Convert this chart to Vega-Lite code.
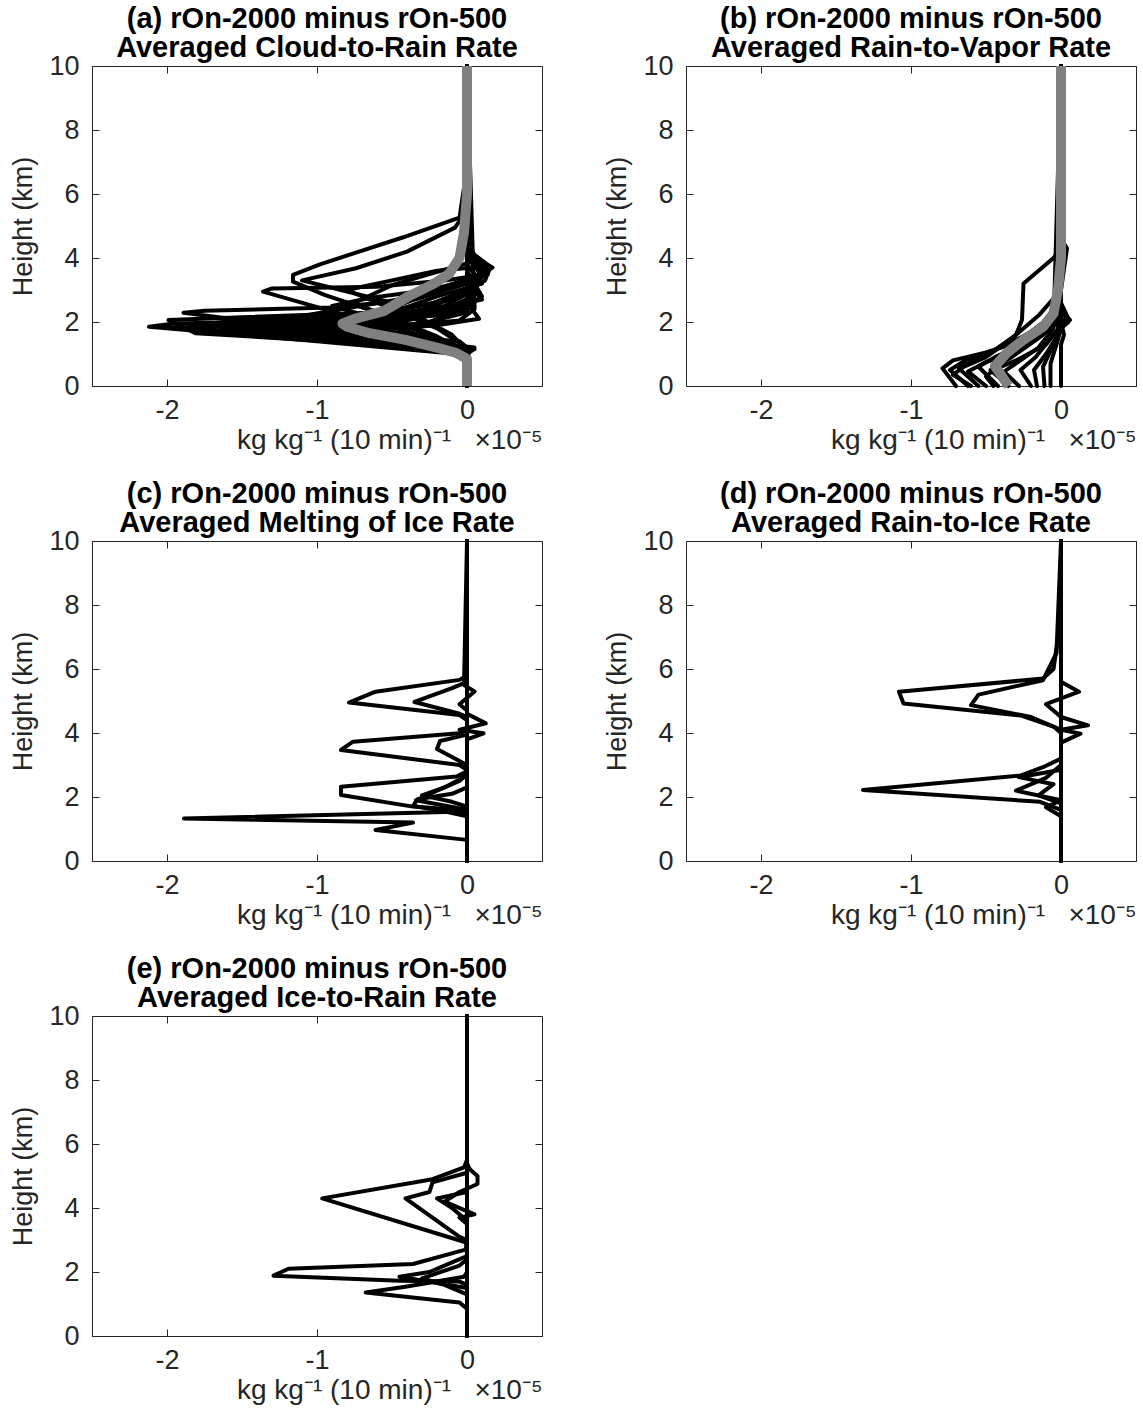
{
"$schema": "https://vega.github.io/schema/vega-lite/v6.json",
"background": "white",
"padding": {"left": 9, "top": 4, "right": 0, "bottom": 0},
"datasets": {
"a": [
{"s":"A1","v":0,"h":0},{"s":"A1","v":0,"h":0.9},{"s":"A1","v":0.01,"h":0.97},{"s":"A1","v":-1.0,"h":1.4},{"s":"A1","v":-2.12,"h":1.85},{"s":"A1","v":-1.95,"h":1.95},{"s":"A1","v":-1.0,"h":2.05},{"s":"A1","v":-0.35,"h":2.3},{"s":"A1","v":0,"h":2.9},{"s":"A1","v":0.1,"h":3.4},{"s":"A1","v":0.02,"h":4.0},{"s":"A1","v":0,"h":4.5},{"s":"A1","v":0,"h":10},
{"s":"A2","v":0,"h":0},{"s":"A2","v":0,"h":1.0},{"s":"A2","v":-0.1,"h":1.2},{"s":"A2","v":-1.0,"h":1.75},{"s":"A2","v":-1.89,"h":2.29},{"s":"A2","v":-1.75,"h":2.35},{"s":"A2","v":-0.9,"h":2.45},{"s":"A2","v":-0.35,"h":2.7},{"s":"A2","v":0,"h":3.2},{"s":"A2","v":0.17,"h":3.7},{"s":"A2","v":0.05,"h":4.0},{"s":"A2","v":0,"h":4.4},{"s":"A2","v":0,"h":10},
{"s":"A3","v":0,"h":0},{"s":"A3","v":0,"h":1.0},{"s":"A3","v":-0.15,"h":1.4},{"s":"A3","v":-0.8,"h":2.2},{"s":"A3","v":-1.36,"h":2.95},{"s":"A3","v":-1.3,"h":3.05},{"s":"A3","v":-0.6,"h":3.1},{"s":"A3","v":-0.15,"h":3.3},{"s":"A3","v":0.14,"h":3.5},{"s":"A3","v":0.05,"h":3.9},{"s":"A3","v":0,"h":4.2},{"s":"A3","v":0,"h":10},
{"s":"A4","v":0,"h":0},{"s":"A4","v":0,"h":1.05},{"s":"A4","v":-0.2,"h":1.55},{"s":"A4","v":-0.6,"h":2.3},{"s":"A4","v":-0.95,"h":2.85},{"s":"A4","v":-1.16,"h":3.26},{"s":"A4","v":-1.16,"h":3.47},{"s":"A4","v":-0.98,"h":3.8},{"s":"A4","v":-0.74,"h":4.17},{"s":"A4","v":-0.43,"h":4.64},{"s":"A4","v":-0.05,"h":5.26},{"s":"A4","v":-0.02,"h":6.2},{"s":"A4","v":0,"h":7.1},{"s":"A4","v":0,"h":10},
{"s":"A5","v":0,"h":0},{"s":"A5","v":0,"h":1.1},{"s":"A5","v":-0.1,"h":1.6},{"s":"A5","v":-0.5,"h":2.6},{"s":"A5","v":-1.1,"h":3.3},{"s":"A5","v":-0.74,"h":3.68},{"s":"A5","v":-0.4,"h":4.2},{"s":"A5","v":-0.08,"h":4.95},{"s":"A5","v":0,"h":5.5},{"s":"A5","v":0,"h":10},
{"s":"A6","v":0,"h":0},{"s":"A6","v":0,"h":0.9},{"s":"A6","v":-0.05,"h":1.15},{"s":"A6","v":-1.81,"h":1.65},{"s":"A6","v":-1.99,"h":2.06},{"s":"A6","v":-1.5,"h":2.15},{"s":"A6","v":-0.6,"h":2.3},{"s":"A6","v":-0.1,"h":2.7},{"s":"A6","v":0.12,"h":3.3},{"s":"A6","v":0.15,"h":3.65},{"s":"A6","v":0.02,"h":4.0},{"s":"A6","v":0,"h":10},
{"s":"A7","v":0,"h":0},{"s":"A7","v":0,"h":1.0},{"s":"A7","v":0.03,"h":1.1},{"s":"A7","v":-1.6,"h":1.85},{"s":"A7","v":-1.45,"h":1.95},{"s":"A7","v":-0.7,"h":2.1},{"s":"A7","v":-0.15,"h":2.5},{"s":"A7","v":0.05,"h":3.0},{"s":"A7","v":0,"h":3.6},{"s":"A7","v":0,"h":10},
{"s":"A8","v":0,"h":0},{"s":"A8","v":0,"h":1.0},{"s":"A8","v":-0.08,"h":1.25},{"s":"A8","v":-1.3,"h":1.8},{"s":"A8","v":-0.9,"h":1.95},{"s":"A8","v":-0.3,"h":2.2},{"s":"A8","v":0.05,"h":2.7},{"s":"A8","v":0,"h":3.3},{"s":"A8","v":0,"h":10},
{"s":"A9","v":0,"h":0},{"s":"A9","v":0,"h":1.05},{"s":"A9","v":0.05,"h":1.15},{"s":"A9","v":-1.05,"h":1.85},{"s":"A9","v":-0.5,"h":2.1},{"s":"A9","v":-0.1,"h":2.5},{"s":"A9","v":0.08,"h":2.9},{"s":"A9","v":0,"h":3.5},{"s":"A9","v":0,"h":10},
{"s":"A10","v":0,"h":0},{"s":"A10","v":0,"h":1.1},{"s":"A10","v":-0.5,"h":1.7},{"s":"A10","v":-0.85,"h":2.0},{"s":"A10","v":-0.5,"h":2.3},{"s":"A10","v":-0.2,"h":2.8},{"s":"A10","v":0.1,"h":3.2},{"s":"A10","v":0,"h":3.8},{"s":"A10","v":0,"h":10},
{"s":"A11","v":0,"h":0},{"s":"A11","v":0,"h":0.95},{"s":"A11","v":-0.5,"h":1.5},{"s":"A11","v":-1.2,"h":2.1},{"s":"A11","v":-0.9,"h":2.35},{"s":"A11","v":-0.4,"h":2.75},{"s":"A11","v":0.05,"h":3.4},{"s":"A11","v":0.12,"h":3.6},{"s":"A11","v":0,"h":4.0},{"s":"A11","v":0,"h":10},
{"s":"A12","v":0,"h":0},{"s":"A12","v":0,"h":1.1},{"s":"A12","v":-0.3,"h":1.7},{"s":"A12","v":-0.9,"h":2.5},{"s":"A12","v":-0.65,"h":2.75},{"s":"A12","v":-0.25,"h":3.0},{"s":"A12","v":0.1,"h":3.4},{"s":"A12","v":0.15,"h":3.65},{"s":"A12","v":0.03,"h":4.0},{"s":"A12","v":0,"h":10},
{"s":"A13","v":0,"h":0},{"s":"A13","v":0,"h":1.2},{"s":"A13","v":-0.05,"h":1.4},{"s":"A13","v":-1.7,"h":1.95},{"s":"A13","v":-1.55,"h":2.05},{"s":"A13","v":-0.7,"h":2.2},{"s":"A13","v":-0.25,"h":2.55},{"s":"A13","v":0.05,"h":3.1},{"s":"A13","v":0,"h":3.6},{"s":"A13","v":0,"h":10},
{"s":"A14","v":0,"h":0},{"s":"A14","v":0,"h":0.9},{"s":"A14","v":-0.1,"h":1.3},{"s":"A14","v":-0.45,"h":1.7},{"s":"A14","v":-0.25,"h":2.0},{"s":"A14","v":0.05,"h":2.5},{"s":"A14","v":0,"h":3.0},{"s":"A14","v":0,"h":10},
{"s":"A15","v":0,"h":0},{"s":"A15","v":0,"h":1.0},{"s":"A15","v":0.02,"h":1.15},{"s":"A15","v":-1.45,"h":1.9},{"s":"A15","v":-1.2,"h":2.02},{"s":"A15","v":-0.6,"h":2.25},{"s":"A15","v":-0.3,"h":2.8},{"s":"A15","v":-0.1,"h":3.1},{"s":"A15","v":0.1,"h":3.5},{"s":"A15","v":0.02,"h":3.9},{"s":"A15","v":0,"h":10},
{"s":"A16","v":0,"h":0},{"s":"A16","v":0,"h":1.1},{"s":"A16","v":-0.2,"h":1.5},{"s":"A16","v":-0.75,"h":2.6},{"s":"A16","v":-0.5,"h":3.15},{"s":"A16","v":-0.25,"h":3.5},{"s":"A16","v":0.05,"h":3.9},{"s":"A16","v":0,"h":4.3},{"s":"A16","v":0,"h":10},
{"s":"A17","v":0,"h":0},{"s":"A17","v":0,"h":1.0},{"s":"A17","v":-0.1,"h":1.3},{"s":"A17","v":-0.9,"h":1.65},{"s":"A17","v":-0.6,"h":1.75},{"s":"A17","v":-0.2,"h":1.9},{"s":"A17","v":0.08,"h":2.1},{"s":"A17","v":0,"h":2.6},{"s":"A17","v":0,"h":10},
{"s":"A18","v":0,"h":0},{"s":"A18","v":0,"h":1.05},{"s":"A18","v":0.05,"h":1.2},{"s":"A18","v":-0.7,"h":1.6},{"s":"A18","v":-0.95,"h":1.78},{"s":"A18","v":-0.3,"h":1.95},{"s":"A18","v":0,"h":2.3},{"s":"A18","v":0,"h":10},
{"s":"A19","v":0,"h":0},{"s":"A19","v":0,"h":0.95},{"s":"A19","v":-0.2,"h":1.2},{"s":"A19","v":-1.1,"h":1.55},{"s":"A19","v":-1.4,"h":1.7},{"s":"A19","v":-0.5,"h":1.85},{"s":"A19","v":-0.05,"h":2.05},{"s":"A19","v":0.05,"h":2.4},{"s":"A19","v":0,"h":10},
{"s":"A20","v":0,"h":0},{"s":"A20","v":0,"h":1.1},{"s":"A20","v":-0.3,"h":1.4},{"s":"A20","v":-1.9,"h":1.8},{"s":"A20","v":-1.75,"h":1.9},{"s":"A20","v":-0.8,"h":2.0},{"s":"A20","v":-0.2,"h":2.2},{"s":"A20","v":0,"h":2.6},{"s":"A20","v":0,"h":10},
{"s":"A21","v":0,"h":0},{"s":"A21","v":0,"h":1.0},{"s":"A21","v":-0.15,"h":1.25},{"s":"A21","v":-1.65,"h":1.75},{"s":"A21","v":-1.2,"h":1.9},{"s":"A21","v":-0.5,"h":2.05},{"s":"A21","v":-0.05,"h":2.35},{"s":"A21","v":0.1,"h":2.8},{"s":"A21","v":0.05,"h":3.2},{"s":"A21","v":0,"h":3.6},{"s":"A21","v":0,"h":10},
{"s":"A22","v":0,"h":0},{"s":"A22","v":0,"h":1.05},{"s":"A22","v":-0.25,"h":1.35},{"s":"A22","v":-2.0,"h":1.82},{"s":"A22","v":-1.3,"h":1.92},{"s":"A22","v":-0.4,"h":2.1},{"s":"A22","v":0,"h":2.4},{"s":"A22","v":0,"h":10},
{"s":"A23","v":0,"h":0},{"s":"A23","v":0,"h":1.1},{"s":"A23","v":-0.05,"h":1.2},{"s":"A23","v":-0.6,"h":1.5},{"s":"A23","v":-1.0,"h":1.7},{"s":"A23","v":-0.6,"h":2.0},{"s":"A23","v":-0.2,"h":2.4},{"s":"A23","v":0.1,"h":2.7},{"s":"A23","v":0.05,"h":3.0},{"s":"A23","v":0,"h":3.4},{"s":"A23","v":0,"h":10},
{"s":"A24","v":0,"h":0},{"s":"A24","v":0,"h":1.15},{"s":"A24","v":-0.2,"h":1.45},{"s":"A24","v":-1.5,"h":1.75},{"s":"A24","v":-1.0,"h":1.85},{"s":"A24","v":-0.45,"h":2.0},{"s":"A24","v":-0.15,"h":2.3},{"s":"A24","v":0.05,"h":2.6},{"s":"A24","v":0,"h":3.0},{"s":"A24","v":0,"h":10},
{"s":"A25","v":0,"h":0},{"s":"A25","v":0,"h":1.2},{"s":"A25","v":-0.2,"h":1.8},{"s":"A25","v":-0.55,"h":2.5},{"s":"A25","v":-0.8,"h":3.0},{"s":"A25","v":-0.5,"h":3.3},{"s":"A25","v":-0.2,"h":3.6},{"s":"A25","v":0.15,"h":3.75},{"s":"A25","v":0.05,"h":4.1},{"s":"A25","v":0,"h":4.5},{"s":"A25","v":0,"h":10}
],
"am": [
{"v":0,"h":0},{"v":0,"h":0.85},{"v":-0.07,"h":1.03},{"v":-0.2,"h":1.2},{"v":-0.41,"h":1.44},{"v":-0.65,"h":1.65},{"v":-0.8,"h":1.85},{"v":-0.83,"h":1.95},{"v":-0.75,"h":2.1},{"v":-0.55,"h":2.35},{"v":-0.39,"h":2.8},{"v":-0.22,"h":3.2},{"v":-0.12,"h":3.5},{"v":-0.05,"h":4.0},{"v":-0.02,"h":4.8},{"v":0,"h":6},{"v":0,"h":10}
],
"b": [
{"s":"B1","v":-0.7,"h":0},{"s":"B1","v":-0.79,"h":0.55},{"s":"B1","v":-0.72,"h":0.8},{"s":"B1","v":-0.5,"h":1.05},{"s":"B1","v":-0.3,"h":1.35},{"s":"B1","v":-0.2,"h":1.7},{"s":"B1","v":-0.1,"h":2.05},{"s":"B1","v":0,"h":2.4},{"s":"B1","v":0,"h":10},
{"s":"B2","v":-0.62,"h":0},{"s":"B2","v":-0.74,"h":0.5},{"s":"B2","v":-0.62,"h":0.85},{"s":"B2","v":-0.45,"h":1.1},{"s":"B2","v":-0.3,"h":1.6},{"s":"B2","v":-0.26,"h":2.07},{"s":"B2","v":-0.25,"h":3.2},{"s":"B2","v":-0.05,"h":4.0},{"s":"B2","v":0,"h":4.3},{"s":"B2","v":0,"h":10},
{"s":"B3","v":-0.55,"h":0},{"s":"B3","v":-0.68,"h":0.55},{"s":"B3","v":-0.55,"h":0.9},{"s":"B3","v":-0.38,"h":1.25},{"s":"B3","v":-0.15,"h":1.8},{"s":"B3","v":0.06,"h":2.06},{"s":"B3","v":0,"h":2.4},{"s":"B3","v":0,"h":10},
{"s":"B4","v":-0.5,"h":0},{"s":"B4","v":-0.62,"h":0.45},{"s":"B4","v":-0.5,"h":0.75},{"s":"B4","v":-0.28,"h":1.1},{"s":"B4","v":-0.12,"h":1.6},{"s":"B4","v":-0.02,"h":2.2},{"s":"B4","v":0,"h":10},
{"s":"B5","v":-0.42,"h":0},{"s":"B5","v":-0.55,"h":0.6},{"s":"B5","v":-0.42,"h":0.95},{"s":"B5","v":-0.2,"h":1.4},{"s":"B5","v":-0.08,"h":2.0},{"s":"B5","v":0.05,"h":2.1},{"s":"B5","v":0,"h":2.6},{"s":"B5","v":0,"h":10},
{"s":"B6","v":-0.35,"h":0},{"s":"B6","v":-0.47,"h":0.5},{"s":"B6","v":-0.33,"h":0.9},{"s":"B6","v":-0.15,"h":1.5},{"s":"B6","v":-0.02,"h":2.0},{"s":"B6","v":0,"h":10},
{"s":"B7","v":-0.28,"h":0},{"s":"B7","v":-0.38,"h":0.45},{"s":"B7","v":-0.27,"h":0.8},{"s":"B7","v":-0.15,"h":1.2},{"s":"B7","v":-0.05,"h":1.8},{"s":"B7","v":0,"h":10},
{"s":"B8","v":-0.2,"h":0},{"s":"B8","v":-0.27,"h":0.5},{"s":"B8","v":-0.17,"h":0.9},{"s":"B8","v":-0.05,"h":1.6},{"s":"B8","v":0.05,"h":2.0},{"s":"B8","v":0,"h":2.4},{"s":"B8","v":0,"h":10},
{"s":"B9","v":-0.16,"h":0},{"s":"B9","v":-0.18,"h":0.5},{"s":"B9","v":-0.1,"h":1.0},{"s":"B9","v":-0.02,"h":1.6},{"s":"B9","v":0,"h":10},
{"s":"B10","v":-0.11,"h":0},{"s":"B10","v":-0.12,"h":0.6},{"s":"B10","v":-0.06,"h":1.2},{"s":"B10","v":0,"h":1.8},{"s":"B10","v":0,"h":10},
{"s":"B11","v":-0.07,"h":0},{"s":"B11","v":-0.07,"h":0.7},{"s":"B11","v":-0.03,"h":1.3},{"s":"B11","v":0,"h":1.8},{"s":"B11","v":0,"h":10},
{"s":"B12","v":0,"h":0},{"s":"B12","v":0,"h":1.3},{"s":"B12","v":0.02,"h":1.6},{"s":"B12","v":0,"h":2.0},{"s":"B12","v":0,"h":10},
{"s":"B13","v":-0.6,"h":0},{"s":"B13","v":-0.72,"h":0.35},{"s":"B13","v":-0.65,"h":0.6},{"s":"B13","v":-0.5,"h":0.9},{"s":"B13","v":-0.35,"h":1.4},{"s":"B13","v":-0.15,"h":2.2},{"s":"B13","v":0,"h":3.0},{"s":"B13","v":0.04,"h":4.3},{"s":"B13","v":0,"h":4.6},{"s":"B13","v":0,"h":10},
{"s":"B14","v":-0.45,"h":0},{"s":"B14","v":-0.5,"h":0.3},{"s":"B14","v":-0.45,"h":0.5},{"s":"B14","v":-0.3,"h":0.8},{"s":"B14","v":-0.1,"h":1.3},{"s":"B14","v":0,"h":1.9},{"s":"B14","v":0,"h":10}
],
"bm": [
{"v":-0.35,"h":0},{"v":-0.44,"h":0.62},{"v":-0.36,"h":1.04},{"v":-0.25,"h":1.44},{"v":-0.12,"h":1.85},{"v":-0.05,"h":2.27},{"v":-0.02,"h":3.0},{"v":0,"h":4.0},{"v":0,"h":10}
],
"c": [
{"s":"C1","v":0,"h":0},{"s":"C1","v":0,"h":0.66},{"s":"C1","v":-0.61,"h":0.97},{"s":"C1","v":-0.36,"h":1.2},{"s":"C1","v":-1.887,"h":1.33},{"s":"C1","v":-0.075,"h":1.54},{"s":"C1","v":0,"h":1.7},{"s":"C1","v":0,"h":10},
{"s":"C2","v":0,"h":0},{"s":"C2","v":0,"h":1.4},{"s":"C2","v":-0.2,"h":1.6},{"s":"C2","v":-0.36,"h":1.72},{"s":"C2","v":-0.33,"h":1.93},{"s":"C2","v":-0.1,"h":2.1},{"s":"C2","v":0,"h":2.3},{"s":"C2","v":0,"h":10},
{"s":"C3","v":0,"h":0},{"s":"C3","v":0,"h":1.5},{"s":"C3","v":-0.07,"h":1.6},{"s":"C3","v":-0.36,"h":1.7},{"s":"C3","v":-0.84,"h":2.06},{"s":"C3","v":-0.84,"h":2.32},{"s":"C3","v":-0.07,"h":2.64},{"s":"C3","v":0,"h":2.8},{"s":"C3","v":0,"h":10},
{"s":"C4","v":0,"h":0},{"s":"C4","v":0,"h":1.6},{"s":"C4","v":-0.34,"h":1.9},{"s":"C4","v":-0.2,"h":2.2},{"s":"C4","v":-0.05,"h":2.5},{"s":"C4","v":0,"h":2.7},{"s":"C4","v":0,"h":10},
{"s":"C5","v":0,"h":0},{"s":"C5","v":0,"h":1.7},{"s":"C5","v":-0.1,"h":1.85},{"s":"C5","v":-0.3,"h":2.05},{"s":"C5","v":-0.15,"h":2.3},{"s":"C5","v":-0.05,"h":2.55},{"s":"C5","v":0,"h":2.7},{"s":"C5","v":0,"h":10},
{"s":"C6","v":0,"h":0},{"s":"C6","v":0,"h":2.85},{"s":"C6","v":-0.05,"h":3.0},{"s":"C6","v":-0.84,"h":3.47},{"s":"C6","v":-0.76,"h":3.73},{"s":"C6","v":-0.05,"h":3.99},{"s":"C6","v":0,"h":4.1},{"s":"C6","v":0,"h":10},
{"s":"C7","v":0,"h":0},{"s":"C7","v":0,"h":3.0},{"s":"C7","v":-0.2,"h":3.5},{"s":"C7","v":-0.18,"h":3.75},{"s":"C7","v":0,"h":3.95},{"s":"C7","v":0,"h":10},
{"s":"C8","v":0,"h":0},{"s":"C8","v":0,"h":3.8},{"s":"C8","v":0.11,"h":3.99},{"s":"C8","v":-0.05,"h":4.1},{"s":"C8","v":0.125,"h":4.3},{"s":"C8","v":0,"h":4.6},{"s":"C8","v":0,"h":10},
{"s":"C9","v":0,"h":0},{"s":"C9","v":0,"h":4.4},{"s":"C9","v":-0.05,"h":4.56},{"s":"C9","v":-0.787,"h":4.95},{"s":"C9","v":-0.61,"h":5.29},{"s":"C9","v":-0.05,"h":5.66},{"s":"C9","v":0,"h":5.8},{"s":"C9","v":0,"h":10},
{"s":"C10","v":0,"h":0},{"s":"C10","v":0,"h":4.5},{"s":"C10","v":-0.05,"h":4.6},{"s":"C10","v":-0.35,"h":4.97},{"s":"C10","v":-0.1,"h":5.4},{"s":"C10","v":0,"h":5.6},{"s":"C10","v":0,"h":10},
{"s":"C11","v":0,"h":0},{"s":"C11","v":0,"h":4.7},{"s":"C11","v":-0.05,"h":4.9},{"s":"C11","v":0.05,"h":5.3},{"s":"C11","v":-0.02,"h":5.5},{"s":"C11","v":0,"h":10}
],
"d": [
{"s":"D1","v":0,"h":0},{"s":"D1","v":0,"h":4.0},{"s":"D1","v":-0.05,"h":4.2},{"s":"D1","v":-0.27,"h":4.55},{"s":"D1","v":-1.05,"h":4.92},{"s":"D1","v":-1.08,"h":5.29},{"s":"D1","v":-0.12,"h":5.7},{"s":"D1","v":-0.05,"h":6.0},{"s":"D1","v":-0.02,"h":7},{"s":"D1","v":0,"h":8},{"s":"D1","v":0,"h":10},
{"s":"D2","v":0,"h":0},{"s":"D2","v":0,"h":4.1},{"s":"D2","v":-0.2,"h":4.5},{"s":"D2","v":-0.6,"h":4.87},{"s":"D2","v":-0.55,"h":5.2},{"s":"D2","v":-0.12,"h":5.65},{"s":"D2","v":-0.03,"h":6.5},{"s":"D2","v":0,"h":10},
{"s":"D3","v":0,"h":0},{"s":"D3","v":0,"h":3.7},{"s":"D3","v":0.13,"h":3.98},{"s":"D3","v":0,"h":4.1},{"s":"D3","v":0.18,"h":4.24},{"s":"D3","v":0,"h":4.5},{"s":"D3","v":-0.1,"h":4.9},{"s":"D3","v":0.12,"h":5.29},{"s":"D3","v":0,"h":5.6},{"s":"D3","v":0,"h":10},
{"s":"D4","v":0,"h":0},{"s":"D4","v":0,"h":1.6},{"s":"D4","v":-0.14,"h":1.85},{"s":"D4","v":-1.32,"h":2.22},{"s":"D4","v":-0.27,"h":2.67},{"s":"D4","v":-0.12,"h":2.93},{"s":"D4","v":0,"h":3.2},{"s":"D4","v":0,"h":10},
{"s":"D5","v":0,"h":0},{"s":"D5","v":0,"h":1.4},{"s":"D5","v":-0.1,"h":1.68},{"s":"D5","v":0,"h":1.9},{"s":"D5","v":-0.3,"h":2.2},{"s":"D5","v":-0.1,"h":2.6},{"s":"D5","v":0,"h":3.0},{"s":"D5","v":0,"h":10},
{"s":"D6","v":0,"h":0},{"s":"D6","v":0,"h":1.8},{"s":"D6","v":-0.15,"h":2.05},{"s":"D6","v":-0.05,"h":2.4},{"s":"D6","v":-0.28,"h":2.62},{"s":"D6","v":0,"h":2.85},{"s":"D6","v":0,"h":10}
],
"e": [
{"s":"E1","v":0,"h":0},{"s":"E1","v":0,"h":2.8},{"s":"E1","v":-0.01,"h":2.93},{"s":"E1","v":-0.965,"h":4.3},{"s":"E1","v":-0.23,"h":4.9},{"s":"E1","v":-0.02,"h":5.27},{"s":"E1","v":0,"h":5.5},{"s":"E1","v":0,"h":10},
{"s":"E2","v":0,"h":0},{"s":"E2","v":0,"h":3.0},{"s":"E2","v":-0.05,"h":3.1},{"s":"E2","v":-0.41,"h":4.3},{"s":"E2","v":-0.25,"h":4.5},{"s":"E2","v":-0.23,"h":4.8},{"s":"E2","v":0,"h":5.1},{"s":"E2","v":0,"h":10},
{"s":"E3","v":0,"h":0},{"s":"E3","v":0,"h":3.5},{"s":"E3","v":-0.05,"h":3.7},{"s":"E3","v":0.05,"h":3.8},{"s":"E3","v":-0.15,"h":4.2},{"s":"E3","v":-0.05,"h":4.5},{"s":"E3","v":0.07,"h":4.75},{"s":"E3","v":0.07,"h":5.0},{"s":"E3","v":0.02,"h":5.2},{"s":"E3","v":0,"h":5.4},{"s":"E3","v":0,"h":10},
{"s":"E4","v":0,"h":0},{"s":"E4","v":0,"h":3.6},{"s":"E4","v":-0.1,"h":4.0},{"s":"E4","v":-0.2,"h":4.3},{"s":"E4","v":0,"h":4.5},{"s":"E4","v":0,"h":10},
{"s":"E5","v":0,"h":0},{"s":"E5","v":0,"h":1.6},{"s":"E5","v":-0.05,"h":1.7},{"s":"E5","v":-0.45,"h":1.73},{"s":"E5","v":-1.29,"h":1.885},{"s":"E5","v":-1.19,"h":2.1},{"s":"E5","v":-0.36,"h":2.25},{"s":"E5","v":-0.01,"h":2.7},{"s":"E5","v":0,"h":2.9},{"s":"E5","v":0,"h":10},
{"s":"E6","v":0,"h":0},{"s":"E6","v":0,"h":0.85},{"s":"E6","v":-0.05,"h":1.05},{"s":"E6","v":-0.675,"h":1.36},{"s":"E6","v":-0.4,"h":1.55},{"s":"E6","v":-0.02,"h":1.85},{"s":"E6","v":0,"h":2.0},{"s":"E6","v":0,"h":10},
{"s":"E7","v":0,"h":0},{"s":"E7","v":0,"h":1.5},{"s":"E7","v":-0.45,"h":1.85},{"s":"E7","v":-0.25,"h":2.0},{"s":"E7","v":-0.1,"h":2.3},{"s":"E7","v":0,"h":2.5},{"s":"E7","v":0,"h":10},
{"s":"E8","v":0,"h":0},{"s":"E8","v":0,"h":1.3},{"s":"E8","v":-0.15,"h":1.6},{"s":"E8","v":-0.3,"h":1.8},{"s":"E8","v":-0.05,"h":2.2},{"s":"E8","v":0,"h":2.4},{"s":"E8","v":0,"h":10}
]
},
"columns": 2,
"bounds": "flush",
"spacing": {"row": 155, "column": 144},
"concat": [
{
"width": 450, "height": 320,
"title": {"text": ["(a) rOn-2000 minus rOn-500", "Averaged Cloud-to-Rain Rate"]},
"layer": [
{"data": {"name": "a"}, "mark": {"type": "line", "color": "#000000", "strokeWidth": 4, "strokeJoin": "round", "strokeCap": "round"},
"encoding": {
"x": {"field": "v", "type": "quantitative", "scale": {"domain": [-2.5, 0.5], "nice": false, "zero": false}, "axis": {"orient": "bottom", "values": [-2, -1, 0], "labelExpr": "'' + datum.value", "title": "kg kg⁻¹ (10 min)⁻¹\u00a0\u00a0\u00a0×10⁻⁵\u00a0", "titleAnchor": "end", "labelPadding": 18, "titlePadding": 3}},
"y": {"field": "h", "type": "quantitative", "scale": {"domain": [0, 10], "nice": false, "zero": false}, "axis": {"orient": "left", "values": [0, 2, 4, 6, 8, 10], "title": "Height (km)", "labelPadding": 20, "titlePadding": 11}},
"detail": {"field": "s"}, "order": {"field": "h"}}},
{"data": {"name": "am"}, "mark": {"type": "line", "color": "#808080", "strokeWidth": 10, "strokeJoin": "round"},
"encoding": {
"x": {"field": "v", "type": "quantitative", "axis": {"orient": "top", "values": [-2, -1, 0], "labels": false, "title": null}},
"y": {"field": "h", "type": "quantitative", "axis": {"orient": "right", "values": [0, 2, 4, 6, 8, 10], "labels": false, "title": null}},
"order": {"field": "h"}}}
],
"resolve": {"axis": {"x": "independent", "y": "independent"}}
},
{
"width": 450, "height": 320,
"title": {"text": ["(b) rOn-2000 minus rOn-500", "Averaged Rain-to-Vapor Rate"]},
"layer": [
{"data": {"name": "b"}, "mark": {"type": "line", "color": "#000000", "strokeWidth": 4, "strokeJoin": "round", "strokeCap": "round"},
"encoding": {
"x": {"field": "v", "type": "quantitative", "scale": {"domain": [-2.5, 0.5], "nice": false, "zero": false}, "axis": {"orient": "bottom", "values": [-2, -1, 0], "labelExpr": "'' + datum.value", "title": "kg kg⁻¹ (10 min)⁻¹\u00a0\u00a0\u00a0×10⁻⁵\u00a0", "titleAnchor": "end", "labelPadding": 18, "titlePadding": 3}},
"y": {"field": "h", "type": "quantitative", "scale": {"domain": [0, 10], "nice": false, "zero": false}, "axis": {"orient": "left", "values": [0, 2, 4, 6, 8, 10], "title": "Height (km)", "labelPadding": 20, "titlePadding": 11}},
"detail": {"field": "s"}, "order": {"field": "h"}}},
{"data": {"name": "bm"}, "mark": {"type": "line", "color": "#808080", "strokeWidth": 10, "strokeJoin": "round"},
"encoding": {
"x": {"field": "v", "type": "quantitative", "axis": {"orient": "top", "values": [-2, -1, 0], "labels": false, "title": null}},
"y": {"field": "h", "type": "quantitative", "axis": {"orient": "right", "values": [0, 2, 4, 6, 8, 10], "labels": false, "title": null}},
"order": {"field": "h"}}}
],
"resolve": {"axis": {"x": "independent", "y": "independent"}}
},
{
"width": 450, "height": 320,
"title": {"text": ["(c) rOn-2000 minus rOn-500", "Averaged Melting of Ice Rate"]},
"data": {"name": "c"},
"layer": [
{"mark": {"type": "line", "color": "#000000", "strokeWidth": 4, "strokeJoin": "round", "strokeCap": "round"},
"encoding": {
"x": {"field": "v", "type": "quantitative", "scale": {"domain": [-2.5, 0.5], "nice": false, "zero": false}, "axis": {"orient": "bottom", "values": [-2, -1, 0], "labelExpr": "'' + datum.value", "title": "kg kg⁻¹ (10 min)⁻¹\u00a0\u00a0\u00a0×10⁻⁵\u00a0", "titleAnchor": "end", "labelPadding": 18, "titlePadding": 3}},
"y": {"field": "h", "type": "quantitative", "scale": {"domain": [0, 10], "nice": false, "zero": false}, "axis": {"orient": "left", "values": [0, 2, 4, 6, 8, 10], "title": "Height (km)", "labelPadding": 20, "titlePadding": 11}},
"detail": {"field": "s"}, "order": {"field": "h"}}},
{"mark": {"type": "line", "strokeOpacity": 0},
"encoding": {
"x": {"field": "v", "type": "quantitative", "axis": {"orient": "top", "values": [-2, -1, 0], "labels": false, "title": null}},
"y": {"field": "h", "type": "quantitative", "axis": {"orient": "right", "values": [0, 2, 4, 6, 8, 10], "labels": false, "title": null}},
"detail": {"field": "s"}, "order": {"field": "h"}}}
],
"resolve": {"axis": {"x": "independent", "y": "independent"}}
},
{
"width": 450, "height": 320,
"title": {"text": ["(d) rOn-2000 minus rOn-500", "Averaged Rain-to-Ice Rate"]},
"data": {"name": "d"},
"layer": [
{"mark": {"type": "line", "color": "#000000", "strokeWidth": 4, "strokeJoin": "round", "strokeCap": "round"},
"encoding": {
"x": {"field": "v", "type": "quantitative", "scale": {"domain": [-2.5, 0.5], "nice": false, "zero": false}, "axis": {"orient": "bottom", "values": [-2, -1, 0], "labelExpr": "'' + datum.value", "title": "kg kg⁻¹ (10 min)⁻¹\u00a0\u00a0\u00a0×10⁻⁵\u00a0", "titleAnchor": "end", "labelPadding": 18, "titlePadding": 3}},
"y": {"field": "h", "type": "quantitative", "scale": {"domain": [0, 10], "nice": false, "zero": false}, "axis": {"orient": "left", "values": [0, 2, 4, 6, 8, 10], "title": "Height (km)", "labelPadding": 20, "titlePadding": 11}},
"detail": {"field": "s"}, "order": {"field": "h"}}},
{"mark": {"type": "line", "strokeOpacity": 0},
"encoding": {
"x": {"field": "v", "type": "quantitative", "axis": {"orient": "top", "values": [-2, -1, 0], "labels": false, "title": null}},
"y": {"field": "h", "type": "quantitative", "axis": {"orient": "right", "values": [0, 2, 4, 6, 8, 10], "labels": false, "title": null}},
"detail": {"field": "s"}, "order": {"field": "h"}}}
],
"resolve": {"axis": {"x": "independent", "y": "independent"}}
},
{
"width": 450, "height": 320,
"title": {"text": ["(e) rOn-2000 minus rOn-500", "Averaged Ice-to-Rain Rate"]},
"data": {"name": "e"},
"layer": [
{"mark": {"type": "line", "color": "#000000", "strokeWidth": 4, "strokeJoin": "round", "strokeCap": "round"},
"encoding": {
"x": {"field": "v", "type": "quantitative", "scale": {"domain": [-2.5, 0.5], "nice": false, "zero": false}, "axis": {"orient": "bottom", "values": [-2, -1, 0], "labelExpr": "'' + datum.value", "title": "kg kg⁻¹ (10 min)⁻¹\u00a0\u00a0\u00a0×10⁻⁵\u00a0", "titleAnchor": "end", "labelPadding": 18, "titlePadding": 3}},
"y": {"field": "h", "type": "quantitative", "scale": {"domain": [0, 10], "nice": false, "zero": false}, "axis": {"orient": "left", "values": [0, 2, 4, 6, 8, 10], "title": "Height (km)", "labelPadding": 20, "titlePadding": 11}},
"detail": {"field": "s"}, "order": {"field": "h"}}},
{"mark": {"type": "line", "strokeOpacity": 0},
"encoding": {
"x": {"field": "v", "type": "quantitative", "axis": {"orient": "top", "values": [-2, -1, 0], "labels": false, "title": null}},
"y": {"field": "h", "type": "quantitative", "axis": {"orient": "right", "values": [0, 2, 4, 6, 8, 10], "labels": false, "title": null}},
"detail": {"field": "s"}, "order": {"field": "h"}}}
],
"resolve": {"axis": {"x": "independent", "y": "independent"}}
}
],
"config": {
"font": "Liberation Sans",
"view": {"stroke": "#262626", "strokeWidth": 1},
"axis": {"domain": false, "grid": false, "tickColor": "#262626", "tickSize": -7, "tickWidth": 1, "labelColor": "#262626", "labelFont": "Liberation Sans", "labelFontSize": 27, "titleFont": "Liberation Sans", "titleFontSize": 27, "titleFontWeight": "normal", "titleColor": "#262626"},
"axisBottom": {"titleFontSize": 28},
"title": {"font": "Liberation Sans", "fontSize": 29, "fontWeight": "bold", "color": "#000000", "lineHeight": 29, "offset": -11, "frame": "group", "anchor": "middle"}
}
}
